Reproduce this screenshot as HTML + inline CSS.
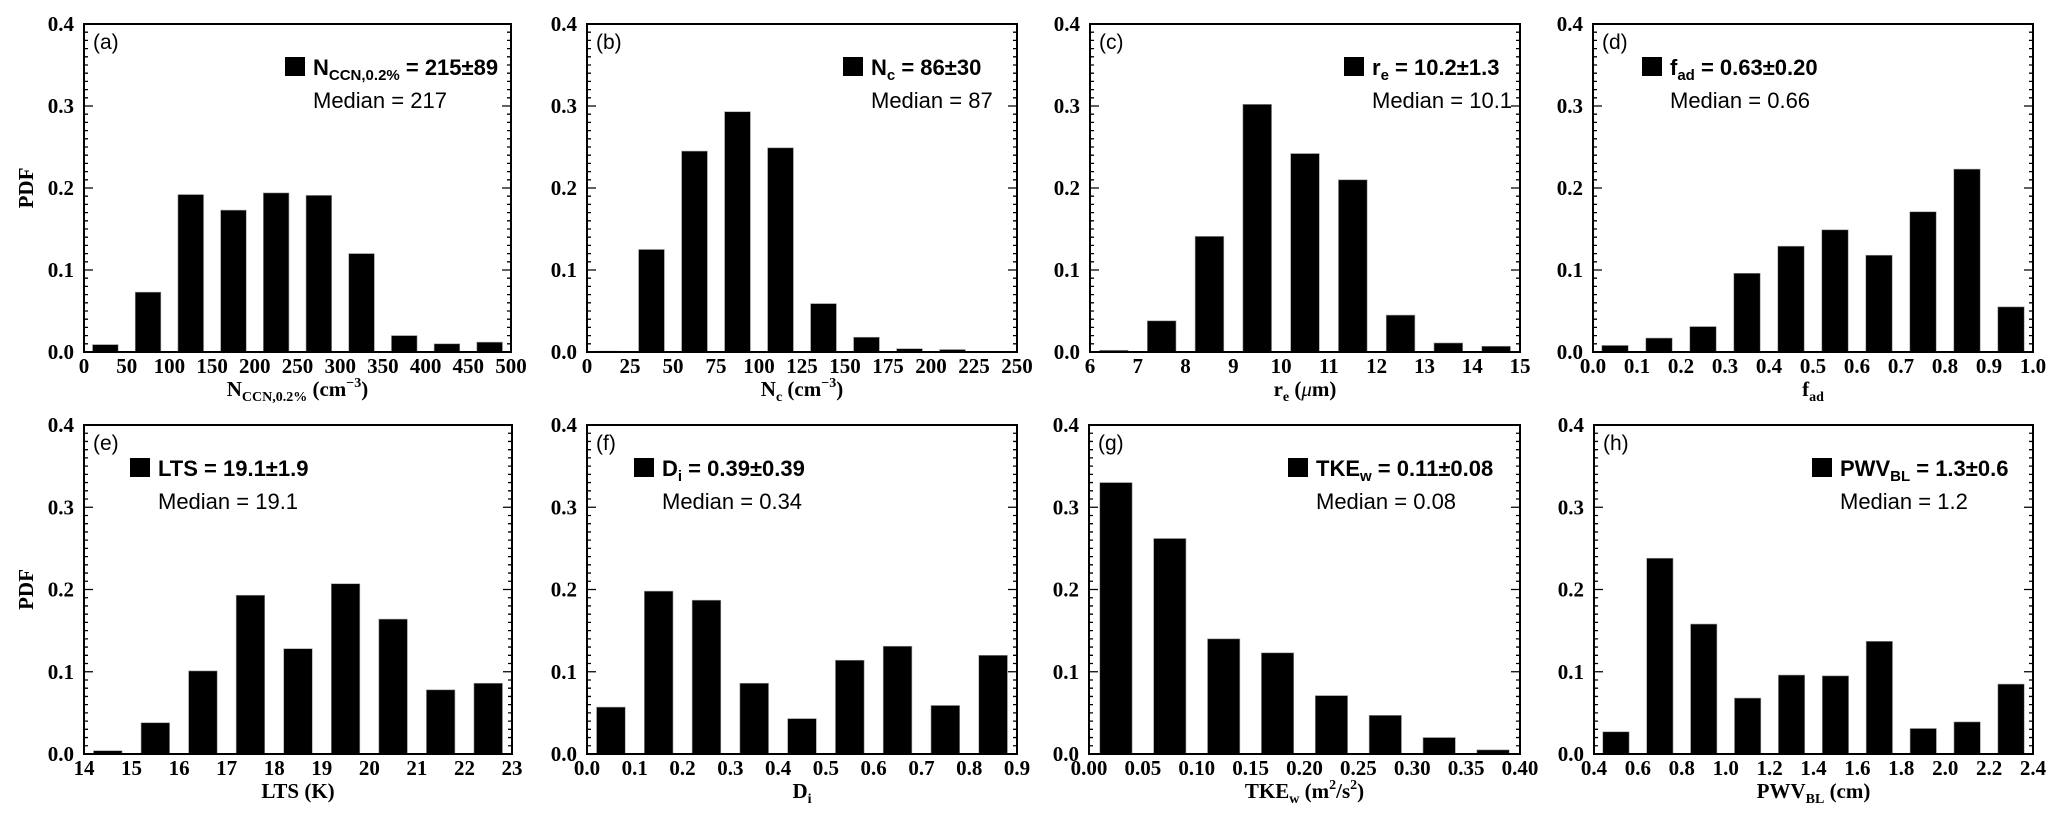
<!DOCTYPE html>
<html><head><meta charset="utf-8"><style>
html,body{margin:0;padding:0;background:#fff;}
svg{display:block;}
.tick{font-family:"Liberation Serif",serif;font-weight:bold;font-size:21px;fill:#000;}
.ttl{font-family:"Liberation Serif",serif;font-weight:bold;font-size:21px;fill:#000;}
.leg{font-family:"Liberation Sans",sans-serif;font-weight:bold;font-size:22px;fill:#000;}
.med{font-family:"Liberation Sans",sans-serif;font-size:22px;fill:#000;}
.pl{font-family:"Liberation Sans",sans-serif;font-size:21px;fill:#000;}
</style></head><body>
<svg id="fig" width="2067" height="829" viewBox="0 0 2067 829" xmlns="http://www.w3.org/2000/svg"></svg>
<script>
// ---- data ----
const binStartA = [0,50,100,150,200,250,300,350,400,450];
const pdfA = [0.009,0.073,0.192,0.173,0.194,0.191,0.120,0.020,0.010,0.012];
const ticksA = ["0","50","100","150","200","250","300","350","400","450","500"];
const binStartB = [0,25,50,75,100,125,150,175,200,225];
const pdfB = [0.001,0.125,0.245,0.293,0.249,0.059,0.018,0.004,0.003,0];
const ticksB = ["0","25","50","75","100","125","150","175","200","225","250"];
const binStartC = [6,7,8,9,10,11,12,13,14];
const pdfC = [0.002,0.038,0.141,0.302,0.242,0.210,0.045,0.011,0.007];
const ticksC = ["6","7","8","9","10","11","12","13","14","15"];
const binStartD = [0,0.1,0.2,0.3,0.4,0.5,0.6,0.7,0.8,0.9];
const pdfD = [0.008,0.017,0.031,0.096,0.129,0.149,0.118,0.171,0.223,0.055];
const ticksD = ["0.0","0.1","0.2","0.3","0.4","0.5","0.6","0.7","0.8","0.9","1.0"];
const binStartE = [14,15,16,17,18,19,20,21,22];
const pdfE = [0.004,0.038,0.101,0.193,0.128,0.207,0.164,0.078,0.086];
const ticksE = ["14","15","16","17","18","19","20","21","22","23"];
const binStartF = [0,0.1,0.2,0.3,0.4,0.5,0.6,0.7,0.8];
const pdfF = [0.057,0.198,0.187,0.086,0.043,0.114,0.131,0.059,0.120];
const ticksF = ["0.0","0.1","0.2","0.3","0.4","0.5","0.6","0.7","0.8","0.9"];
const binStartG = [0,0.05,0.10,0.15,0.20,0.25,0.30,0.35];
const pdfG = [0.330,0.262,0.140,0.123,0.071,0.047,0.020,0.005];
const ticksG = ["0.00","0.05","0.10","0.15","0.20","0.25","0.30","0.35","0.40"];
const binStartH = [0.4,0.6,0.8,1.0,1.2,1.4,1.6,1.8,2.0,2.2];
const pdfH = [0.027,0.238,0.158,0.068,0.096,0.095,0.137,0.031,0.039,0.085];
const ticksH = ["0.4","0.6","0.8","1.0","1.2","1.4","1.6","1.8","2.0","2.2","2.4"];
const yTicks = ["0.0","0.1","0.2","0.3","0.4"];

const NS="http://www.w3.org/2000/svg";
const svg=document.getElementById('fig');
function mk(tag,attrs,parent){const e=document.createElementNS(NS,tag);for(const k in attrs)e.setAttribute(k,attrs[k]);(parent||svg).appendChild(e);return e;}

const panels=[
 {id:'a',L:84,R:511,T:24,B:352,bins:binStartA,vals:pdfA,ticks:ticksA,lbx:201,pdf:true,
  leg:[['N',''],['CCN,0.2%','sub'],[' = 215±89','']],med:'Median = 217',
  xt:[['N',''],['CCN,0.2%','sub'],[' (cm',''],['−3','sup'],[')','']]},
 {id:'b',L:587,R:1017,T:24,B:352,bins:binStartB,vals:pdfB,ticks:ticksB,lbx:256,
  leg:[['N',''],['c','sub'],[' = 86±30','']],med:'Median = 87',
  xt:[['N',''],['c','sub'],[' (cm',''],['−3','sup'],[')','']]},
 {id:'c',L:1090,R:1520,T:24,B:352,bins:binStartC,vals:pdfC,ticks:ticksC,lbx:254,
  leg:[['r',''],['e','sub'],[' = 10.2±1.3','']],med:'Median = 10.1',
  xt:[['r',''],['e','sub'],[' (',''],['μ','it'],['m)','']]},
 {id:'d',L:1593,R:2033,T:24,B:352,bins:binStartD,vals:pdfD,ticks:ticksD,lbx:49,
  leg:[['f',''],['ad','sub'],[' = 0.63±0.20','']],med:'Median = 0.66',
  xt:[['f',''],['ad','sub']]},
 {id:'e',L:84,R:512,T:425,B:754,bins:binStartE,vals:pdfE,ticks:ticksE,lbx:46,pdf:true,
  leg:[['LTS = 19.1±1.9','']],med:'Median = 19.1',
  xt:[['LTS (K)','']]},
 {id:'f',L:587,R:1017,T:425,B:754,bins:binStartF,vals:pdfF,ticks:ticksF,lbx:47,
  leg:[['D',''],['i','sub'],[' = 0.39±0.39','']],med:'Median = 0.34',
  xt:[['D',''],['i','sub']]},
 {id:'g',L:1089,R:1520,T:425,B:754,bins:binStartG,vals:pdfG,ticks:ticksG,lbx:199,
  leg:[['TKE',''],['w','sub'],[' = 0.11±0.08','']],med:'Median = 0.08',
  xt:[['TKE',''],['w','sub'],[' (m',''],['2','sup'],['/s',''],['2','sup'],[')','']]},
 {id:'h',L:1594,R:2033,T:425,B:754,bins:binStartH,vals:pdfH,ticks:ticksH,lbx:218,
  leg:[['PWV',''],['BL','sub'],[' = 1.3±0.6','']],med:'Median = 1.2',
  xt:[['PWV',''],['BL','sub'],[' (cm)','']]}
];

function rich(textEl,parts,subSize){
  for(const [s,k] of parts){
    const t=mk('tspan',{},textEl);
    if(k==='sub'){t.setAttribute('font-size',subSize);t.setAttribute('dy','5');}
    else if(k==='sup'){t.setAttribute('font-size',subSize);t.setAttribute('dy','-9');}
    else if(k==='it'){t.setAttribute('font-style','italic');t.setAttribute('font-weight','normal');}
    t.textContent=s;
    if(k==='sub'||k==='sup'){ textEl._pending=(k==='sub'?-5:9); }
    else if(textEl._pending){t.setAttribute('dy',textEl._pending);textEl._pending=0;}
  }
}

panels.forEach(p=>{
  const g=mk('g',{});
  
  
  const binW=p.bins[1]-p.bins[0];
  const xmax=parseFloat(p.ticks[p.ticks.length-1]), xmin=parseFloat(p.ticks[0]);
  const sx=v=>p.L+(v-xmin)/(xmax-xmin)*(p.R-p.L);
  const sy=v=>p.B-v/0.4*(p.B-p.T);
  p.vals.forEach((v,i)=>{
    const c=p.bins[i]+binW/2;
    const bw=0.6*binW;
    const r=mk('rect',{x:sx(c-bw/2),y:sy(v),width:sx(c+bw/2)-sx(c-bw/2),height:sy(0)-sy(v),fill:'#000',stroke:'#999','stroke-width':0.6},g);
    
    
  });
  const fr=mk('rect',{x:p.L,y:p.T,width:p.R-p.L,height:p.B-p.T,fill:'none',stroke:'#000','stroke-width':2},g);
  
  
  let d='';
  for(let k=0;k<=40;k++){
    const y=sy(k*0.01); const len=(k%10===0)?9:4;
    d+=`M${p.L},${y}h${len}M${p.R},${y}h${-len}`;
  }
  mk('path',{d:d,stroke:'#000','stroke-width':1.3,fill:'none'},g);
  yTicks.forEach(t=>{
    const tx=mk('text',{x:p.L-10,y:sy(parseFloat(t))+7,'text-anchor':'end',class:'tick'},g);
    
    
    tx.textContent=t;
  });
  p.ticks.forEach(t=>{
    const tx=mk('text',{x:sx(parseFloat(t)),y:p.B+21,'text-anchor':'middle',class:'tick'},g);
    
    
    tx.textContent=t;
  });
  const xt=mk('text',{x:(p.L+p.R)/2,y:p.B+44,'text-anchor':'middle',class:'ttl'},g);
  
  
  rich(xt,p.xt,'14');
  if(p.pdf){
    const yt=mk('text',{x:0,y:0,'text-anchor':'middle',class:'ttl',transform:`translate(33,${(p.T+p.B)/2}) rotate(-90)`},g);
    
    
    yt.textContent='PDF';
  }
  const pl=mk('text',{x:p.L+9,y:p.T+25,class:'pl'},g);
  
  
  pl.textContent='('+p.id+')';
  const bx=p.L+p.lbx, by=p.T+33;
  const sq=mk('rect',{x:bx,y:by,width:20,height:19,fill:'#000'},g);
  
  
  const lt=mk('text',{x:bx+28,y:by+18,class:'leg'},g);
  
  
  rich(lt,p.leg,'15');
  const md=mk('text',{x:bx+28,y:by+51,class:'med'},g);
  
  
  md.textContent=p.med;
});
</script>
</body></html>
